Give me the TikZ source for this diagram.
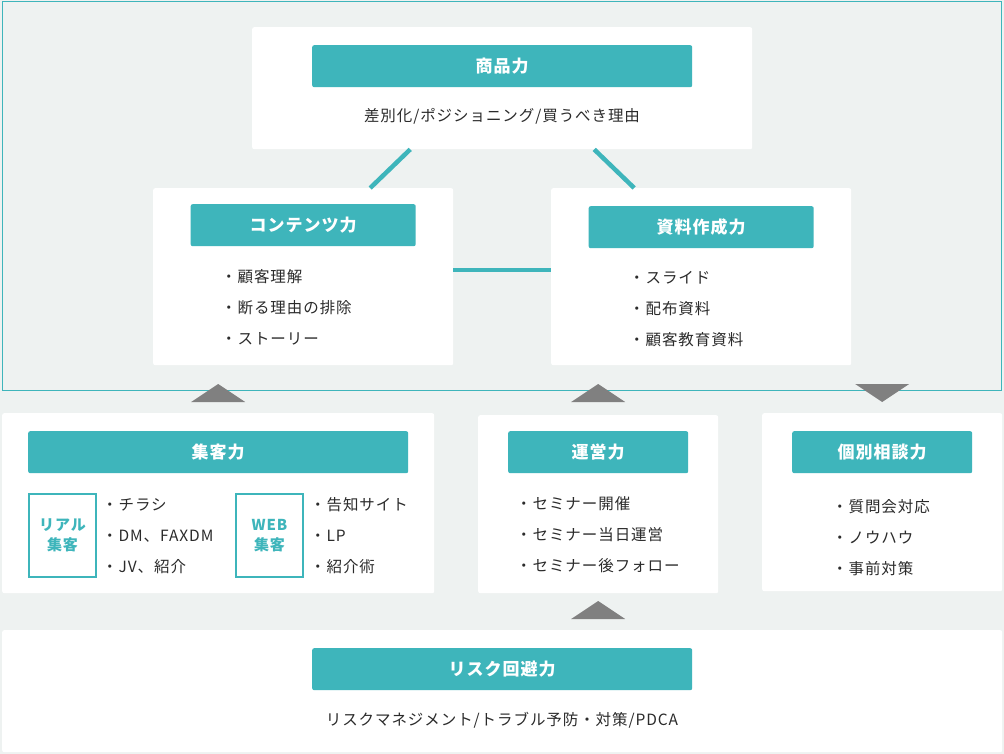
\documentclass[tikz,border=0pt]{standalone}
\usepackage{fontspec}
\setmainfont{Noto Sans CJK JP}[LetterSpace=6]
\usepackage{xcolor}
\usetikzlibrary{positioning}
\usetikzlibrary{calc}
\definecolor{teal1}{HTML}{3EB5BB}
\definecolor{bgcol}{HTML}{EEF2F1}
\definecolor{txtcol}{HTML}{2B2B2B}
\definecolor{markcol}{HTML}{808080}
\begin{document}
\begin{tikzpicture}[x=1pt,y=-1pt,
card/.style={fill=white, rounded corners=2pt, inner sep=0pt, anchor=north west},
head/.style={fill=teal1, rounded corners=2pt, text=white, inner sep=0pt,
minimum height=42pt, font=\fontsize{17}{20}\selectfont\bfseries},
items/.style={text=txtcol, align=left, anchor=west, inner sep=0pt,
font=\fontsize{15.5}{31}\selectfont},
plain/.style={text=txtcol, inner sep=0pt, font=\fontsize{15.5}{18}\selectfont},
tag/.style={draw=teal1, line width=2pt, text=teal1, align=center, inner sep=0pt,
anchor=north west, minimum width=67pt, minimum height=83pt,
font=\fontsize{15}{20}\selectfont\bfseries},
link/.style={draw=teal1, line width=4.5pt},
arrowmark/.style={fill=markcol}]
\fill[bgcol] (0,0) rectangle (1004,754);
\useasboundingbox (0,0) rectangle (1004,754);
\draw[teal1, line width=1pt] (2.5,1.5) rectangle (1001.5,390.5);

\node[card, minimum width=500pt, minimum height=122pt] (shohin) at (252,27) {};
\node[head, minimum width=380pt, below=18pt of shohin.north] (shohinhead) {商品力};
\node[plain] (shohintext) at (502,116) {差別化/ポジショニング/買うべき理由};

\node[card, minimum width=300pt, minimum height=177pt] (content) at (153,188) {};
\node[head, minimum width=225pt, below=16pt of content.north] (contenthead) {コンテンツ力};
\node[items] (contentlist) at (221,307) {・顧客理解\\・断る理由の排除\\・ストーリー};

\node[card, minimum width=300pt, minimum height=177pt] (shiryo) at (551,188) {};
\node[head, minimum width=225pt, below=18pt of shiryo.north] (shiryohead) {資料作成力};
\node[items] (shiryolist) at (629,309) {・スライド\\・配布資料\\・顧客教育資料};

\node[card, minimum width=432pt, minimum height=180pt] (shukyaku) at (2,413) {};
\node[head, minimum width=380pt, below=18pt of shukyaku.north] (shukyakuhead) {集客力};
\node[tag] (real) at (28,493) {リアル\\集客};
\node[items] (reallist) at (102,536) {・チラシ\\・DM、FAXDM\\・JV、紹介};
\node[tag] (web) at (235,493) {WEB\\集客};
\node[items] (weblist) at (310,536) {・告知サイト\\・LP\\・紹介術};

\node[card, minimum width=240pt, minimum height=178pt] (unei) at (478,415) {};
\node[head, minimum width=180pt, below=16pt of unei.north] (ueihead) {運営力};
\node[items] (ueilist) at (516,535) {・セミナー開催\\・セミナー当日運営\\・セミナー後フォロー};

\node[card, minimum width=240pt, minimum height=178pt] (kobetsu) at (762,413) {};
\node[head, minimum width=180pt, below=18pt of kobetsu.north] (kobetsuhead) {個別相談力};
\node[items] (kobetsulist) at (832,538) {・質問会対応\\・ノウハウ\\・事前対策};

\node[card, minimum width=1000pt, minimum height=122pt] (risk) at (2,630) {};
\node[head, minimum width=380pt, below=18pt of risk.north] (riskhead) {リスク回避力};
\node[plain] (risktext) at (502,720) {リスクマネジメント/トラブル予防・対策/PDCA};

\draw[link] ([xshift=-92pt]shohin.south) -- ([xshift=67pt]content.north);
\draw[link] ([xshift=92pt]shohin.south) -- ([xshift=-67pt]shiryo.north);
\draw[link] ([yshift=6.5pt]content.east) -- ([yshift=6.5pt]shiryo.west);

\fill[arrowmark] ([yshift=11pt]shukyaku.north) ++(-27,0) -- ++(54,0) -- ++(-27,-18) -- cycle;
\fill[arrowmark] ([yshift=13pt]unei.north) ++(-27,0) -- ++(54,0) -- ++(-27,-18) -- cycle;
\fill[arrowmark] ([yshift=11pt]kobetsu.north) -- ++(-27,-18) -- ++(54,0) -- cycle;
\fill[arrowmark] ($(unei.south |- risk.north)+(0,-11)$) ++(-27,0) -- ++(54,0) -- ++(-27,-18) -- cycle;
\end{tikzpicture}
\end{document}
